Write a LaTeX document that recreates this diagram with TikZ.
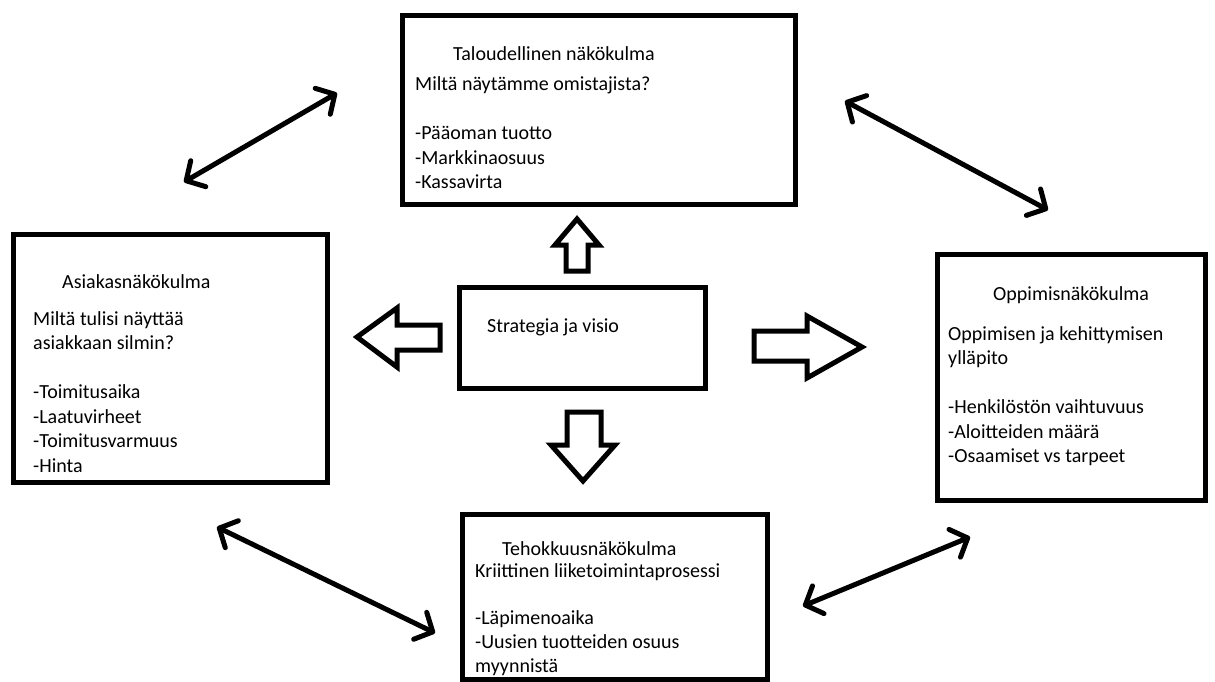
\documentclass[tikz,border=0pt]{standalone}
\usepackage{fontspec}
\setmainfont{Carlito}
\usetikzlibrary{arrows.meta,calc}

\begin{document}
\begin{tikzpicture}[
    x=1pt, y=-1pt,
    box/.style={rectangle, draw, line width=5pt, inner sep=0pt},
    txt/.style={anchor=base west, inner sep=0pt, align=left, font=\fontsize{20}{24.5}\selectfont},
    arrow/.style={<->, line width=5pt, line cap=round, >={Straight Barb[length=14pt, width=30pt, round]}},
    blockarrow/.style={draw, line width=5pt, fill=white, line join=miter}
]
\useasboundingbox (0,0) rectangle (1215,681);

% Perspectives
\node[box, minimum width=393pt, minimum height=189pt] (talous) at (599,110) {};
\node[box, minimum width=314pt, minimum height=248pt] (asiakas) at (170,358) {};
\node[box, minimum width=246pt, minimum height=101pt] (strategia) at (582.5,338) {};
\node[box, minimum width=268pt, minimum height=246pt] (oppiminen) at (1071.5,377.5) {};
\node[box, minimum width=305pt, minimum height=164.5pt] (tehokkuus) at (615,596.75) {};

% Texts (multi-line texts sit on their last line)
\node[txt] (talous-otsikko) at (453,60) {Taloudellinen näkökulma};
\node[txt] (talous-teksti) at (415,188.5) {Miltä näytämme omistajista?\\[24.5pt]-Pääoman tuotto\\-Markkinaosuus\\-Kassavirta};

\node[txt] (asiakas-otsikko) at (62,288) {Asiakasnäkökulma};
\node[txt] (asiakas-teksti) at (33,472) {Miltä tulisi näyttää\\asiakkaan silmin?\\[24.5pt]-Toimitusaika\\-Laatuvirheet\\-Toimitusvarmuus\\-Hinta};

\node[txt] (strategia-teksti) at (487,332) {Strategia ja visio};

\node[txt] (oppiminen-otsikko) at (993,300) {Oppimisnäkökulma};
\node[txt] (oppiminen-teksti) at (948,462.5) {Oppimisen ja kehittymisen\\ylläpito\\[24.5pt]-Henkilöstön vaihtuvuus\\-Aloitteiden määrä\\-Osaamiset vs tarpeet};

\node[txt] (tehokkuus-otsikko) at (502,555) {Tehokkuusnäkökulma};
\node[txt, font=\fontsize{20}{23.7}\selectfont] (tehokkuus-teksti) at (475,672) {Kriittinen liiketoimintaprosessi\\[23.7pt]-Läpimenoaika\\-Uusien tuotteiden osuus\\myynnistä};

% Block arrows from the strategy
\draw[blockarrow] (566,271) -- (566,245) -- (555,245) -- (577,219) -- (599,245) -- (588,245) -- (588,271) -- cycle;
\draw[blockarrow] (567,412) -- (601,412) -- (601,445) -- (615,445) -- (583,481) -- (551,445) -- (567,445) -- cycle;
\draw[blockarrow] (440,325) -- (397,325) -- (397,308) -- (357,337) -- (397,367) -- (397,350) -- (440,350) -- cycle;
\draw[blockarrow] (754,331) -- (807,331) -- (807,316) -- (862,347) -- (807,378) -- (807,361) -- (754,361) -- cycle;

% Links between perspectives
\coordinate (asiakas-talous) at (184,182);
\coordinate (talous-asiakas) at (337,93);
\coordinate (talous-oppiminen) at (845,101);
\coordinate (oppiminen-talous) at (1048,210);
\coordinate (asiakas-tehokkuus) at (217,527);
\coordinate (tehokkuus-asiakas) at (435,633);
\coordinate (tehokkuus-oppiminen) at (803,606);
\coordinate (oppiminen-tehokkuus) at (970,537);

\draw[arrow] (asiakas-talous) -- (talous-asiakas);
\draw[arrow] (talous-oppiminen) -- (oppiminen-talous);
\draw[arrow] (asiakas-tehokkuus) -- (tehokkuus-asiakas);
\draw[arrow] (tehokkuus-oppiminen) -- (oppiminen-tehokkuus);

\end{tikzpicture}
\end{document}
